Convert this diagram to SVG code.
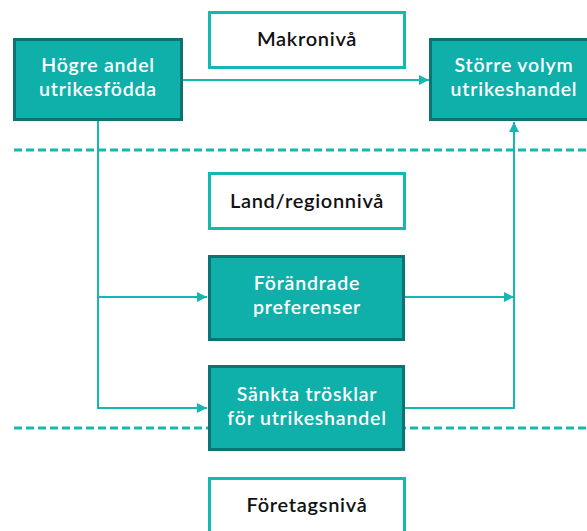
<svg xmlns="http://www.w3.org/2000/svg" width="587" height="531" viewBox="0 0 587 531">
<defs>
<style>
.dash{stroke:#14b8b0;stroke-width:3;stroke-dasharray:8 4;fill:none}
.con{stroke:#14b8b0;stroke-width:2;fill:none}
.dark{fill:#0fb0aa;stroke:#0b7371;stroke-width:3}
.light{fill:#ffffff;stroke:#14b8b0;stroke-width:3}
.wt{font-family:Lato,"Open Sans","Liberation Sans",sans-serif;font-size:19.5px;font-weight:600;letter-spacing:0.8px;fill:#ffffff;text-anchor:middle}
.bt{font-family:Lato,"Open Sans","Liberation Sans",sans-serif;font-size:20px;font-weight:600;letter-spacing:0.7px;fill:#111111;text-anchor:middle}
</style>
<marker id="arr" viewBox="0 0 10 10" refX="10" refY="5" markerWidth="10" markerHeight="10" markerUnits="userSpaceOnUse" orient="auto">
<path d="M0,0 L10,5 L0,10 z" fill="#14b8b0"/>
</marker>
</defs>
<g id="levels">
<line class="dash" x1="14" y1="150" x2="587" y2="150"/>
<line class="dash" x1="14" y1="428" x2="587" y2="428"/>
</g>
<g id="connectors">
<line class="con" x1="183" y1="80" x2="429" y2="80" marker-end="url(#arr)"/>
<polyline class="con" points="98,121 98,408 207,408" marker-end="url(#arr)"/>
<line class="con" x1="98" y1="297" x2="207" y2="297" marker-end="url(#arr)"/>
<line class="con" x1="405" y1="297" x2="514" y2="297" marker-end="url(#arr)"/>
<polyline class="con" points="405,408 514,408 514,122" marker-end="url(#arr)"/>
</g>
<g id="makro">
<rect class="light" x="209.5" y="12.5" width="195" height="55"/>
<text class="bt" x="307" y="46">Makronivå</text>
</g>
<g id="hogre">
<rect class="dark" x="14.5" y="39.5" width="167" height="80"/>
<text class="wt" x="98" y="72">Högre andel</text>
<text class="wt" x="98" y="96">utrikesfödda</text>
</g>
<g id="storre">
<rect class="dark" x="430.5" y="39.5" width="167" height="80"/>
<text class="wt" x="514" y="72">Större volym</text>
<text class="wt" x="514" y="96">utrikeshandel</text>
</g>
<g id="land">
<rect class="light" x="209.5" y="173.5" width="195" height="55"/>
<text class="bt" x="307" y="207.5">Land/regionnivå</text>
</g>
<g id="forandrade">
<rect class="dark" x="209.5" y="256.5" width="194" height="83"/>
<text class="wt" x="307" y="290">Förändrade</text>
<text class="wt" x="307" y="313.5">preferenser</text>
</g>
<g id="sankta">
<rect class="dark" x="209.5" y="366.5" width="194" height="83"/>
<text class="wt" x="307" y="401">Sänkta trösklar</text>
<text class="wt" x="307" y="424.5">för utrikeshandel</text>
</g>
<g id="foretag">
<rect class="light" x="209.5" y="478.5" width="195" height="55"/>
<text class="bt" x="307" y="512">Företagsnivå</text>
</g>
</svg>
